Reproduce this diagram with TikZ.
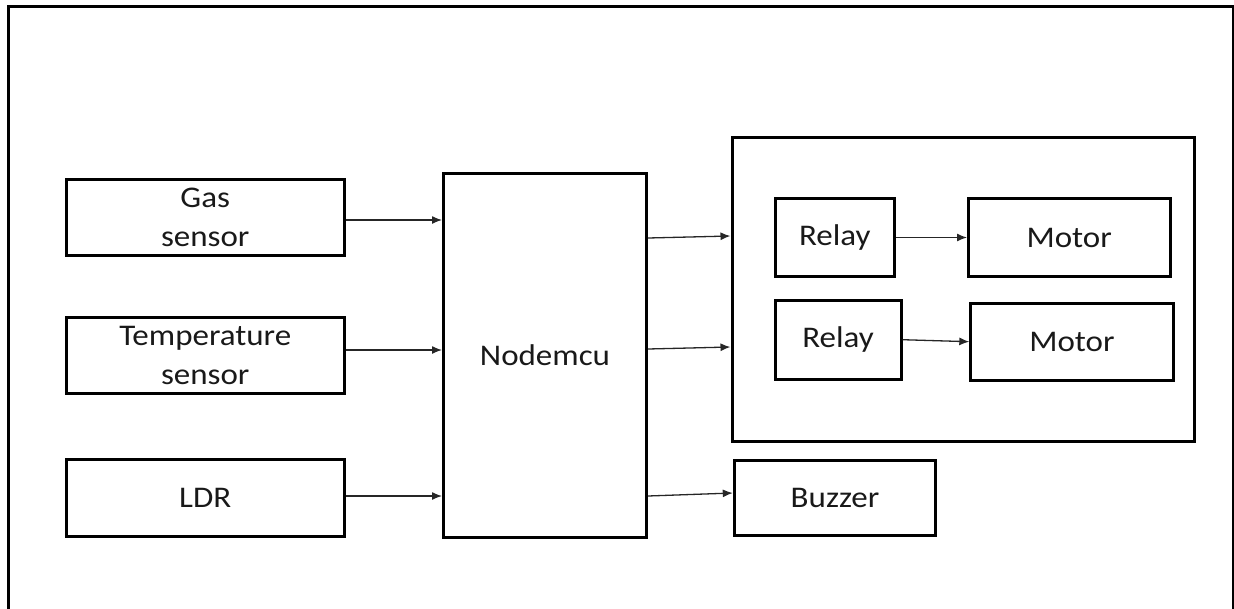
\documentclass[tikz,border=0pt]{standalone}
\usepackage{fontspec}
\setmainfont{Carlito}[FakeStretch=1.1]
\usetikzlibrary{arrows.meta}
\begin{document}
\begin{tikzpicture}[x=1pt,y=-1pt,
  blk/.style={draw=black, line width=3pt, inner sep=0pt, align=center,
    font=\fontsize{30}{39}\selectfont, text=black!90},
  arr/.style={draw=black!85, line width=1.3pt, -{Latex[length=10pt,width=8pt]}},
  frame/.style={draw=black, line width=3.2pt}]
\useasboundingbox (0,0) rectangle (1234,608);
\begin{scope}
\clip (0,0) rectangle (1234,608);
\coordinate (fbl) at (8.3,620);
\coordinate (ftl) at (8.3,6.5);
\coordinate (ftr) at (1233.6,6.5);
\coordinate (fbr) at (1233.6,620);
\draw[frame] (fbl) -- (ftl) -- (ftr) -- (fbr);
\end{scope}
% left column
\node[blk, minimum width=277.5pt, minimum height=75.5pt] (gas) at (205.25,217.25) {Gas\\sensor};
\node[blk, minimum width=277.5pt, minimum height=76pt] (temp) at (205.25,355) {Temperature\\sensor};
\node[blk, minimum width=277.5pt, minimum height=77pt] (ldr) at (205.25,498) {LDR};
% controller
\node[blk, minimum width=203pt, minimum height=364pt] (mcu) at (545,355) {Nodemcu};
% output group
\node[blk, minimum width=462pt, minimum height=304pt] (grp) at (963,289.5) {};
\node[blk, minimum width=119.5pt, minimum height=78.4pt] (relayA) at (834.75,237.5) {Relay};
\node[blk, minimum width=201.5pt, minimum height=78pt] (motorA) at (1069.25,237.5) {Motor};
\node[blk, minimum width=126pt, minimum height=78.7pt] (relayB) at (838,339.7) {Relay};
\node[blk, minimum width=202.2pt, minimum height=77.3pt] (motorB) at (1071.9,341.7) {Motor};
\node[blk, minimum width=201.4pt, minimum height=75.3pt] (buzzer) at (835,497.7) {Buzzer};
% connectors
\draw[arr] ([yshift=-2.75pt]gas.east) -- ([yshift=-2.75pt]gas.east -| mcu.west);
\draw[arr] ([yshift=5pt]temp.east) -- ([yshift=5pt]temp.east -| mcu.west);
\draw[arr] ([yshift=2pt]ldr.east) -- ([yshift=2pt]ldr.east -| mcu.west);
\draw[arr] ([yshift=117pt]mcu.east) -- ([yshift=53.5pt]grp.west);
\draw[arr] ([yshift=6pt]mcu.east) -- ([yshift=-57.5pt]grp.west);
\draw[arr] ([yshift=-141pt]mcu.east) -- ([yshift=4.7pt]buzzer.west);
\draw[arr] (relayA.east) -- (motorA.west);
\draw[arr] (relayB.east) -- (motorB.west);
\end{tikzpicture}
\end{document}
